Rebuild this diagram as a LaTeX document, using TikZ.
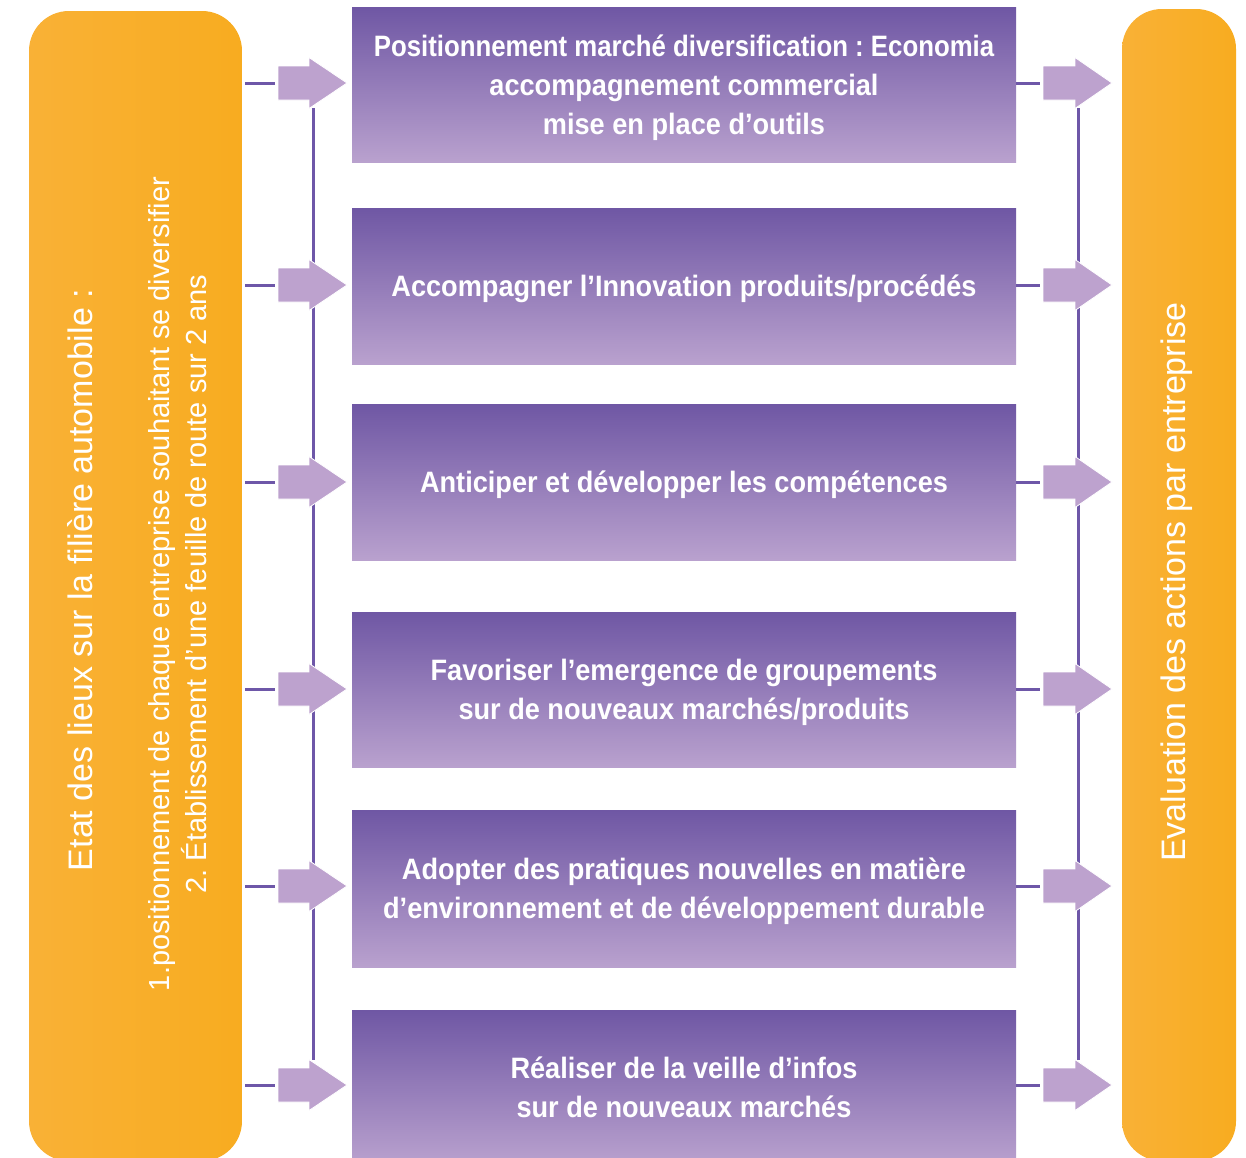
\documentclass[tikz,border=0pt]{standalone}
\usepackage{fontspec}
\setmainfont{Liberation Sans}
\newfontfamily\boxfont{Liberation Sans}[FakeStretch=0.92]
\usetikzlibrary{positioning}
\frenchspacing

\definecolor{orangeL}{HTML}{F9B136}
\definecolor{orangeR}{HTML}{F8AC20}
\definecolor{violetHaut}{HTML}{6F57A4}
\definecolor{violetBas}{HTML}{B9A1CE}
\definecolor{violetFleche}{HTML}{BDA2CE}
\definecolor{violetTrait}{HTML}{6E57A8}

\tikzset{
  cadre/.style={rounded corners=40, left color=orangeL, right color=orangeR, draw=none},
  action/.style={minimum width=664, minimum height=155, inner sep=0, top color=violetHaut,
    bottom color=violetBas, draw=none, text=white, align=center, text depth=0pt,
    font=\boxfont\bfseries\fontsize{29.5}{39}\selectfont},
  lien/.style={violetTrait, line width=3},
  fleche/.style={fill=violetFleche, draw=white, line width=0.8}
}

\begin{document}
\begin{tikzpicture}[x=1pt, y=-1pt]
\useasboundingbox[fill=white] (0,0) rectangle (1246,1157);

% blocs lateraux
\node[cadre, minimum width=213, minimum height=1150] (etat) at (135.5,586) {};
\node[cadre, minimum width=114, minimum height=1152] (evaluation) at (1179,585) {};

\node[rotate=90, text=white, font=\fontsize{34}{40}\selectfont] (etatTitre) at (80,580)
  {Etat des lieux sur la filière automobile :};
\node[rotate=90, text=white, align=center, font=\fontsize{29}{37}\selectfont] (etatDetail) at (178,584)
  {1.positionnement de chaque entreprise souhaitant se diversifier\\2. Établissement d’une feuille de route sur 2 ans};
\node[rotate=90, text=white, font=\fontsize{34}{40}\selectfont] (evalTitre) at (1177,582)
  {Evaluation des actions par entreprise};

% actions
\node[action] (b1) at (684,84.5) {\scalebox{0.95}[1]{Positionnement marché diversification : Economia}\\accompagnement commercial\\mise en place d’outils};
\node[action, minimum height=156] (b2) at (684,286) {Accompagner l’Innovation produits/procédés};
\node[action, minimum height=156] (b3) at (684,482) {Anticiper et développer les compétences};
\node[action] (b4) at (684,689.5) {Favoriser l’emergence de groupements\\sur de nouveaux marchés/produits};
\node[action, minimum height=157] (b5) at (684,888.5) {Adopter des pratiques nouvelles en matière\\d’environnement et de développement durable};
\node[action, minimum height=154] (b6) at (684,1087) {Réaliser de la veille d’infos\\sur de nouveaux marchés};

% traits verticaux
\draw[lien] (313,108) coordinate (gHaut) -- (313,1060) coordinate (gBas);
\draw[lien] (1078,108) coordinate (dHaut) -- (1078,1060) coordinate (dBas);

% fleches
\foreach \i/\y in {1/83, 2/285, 3/482, 4/689, 5/886, 6/1085}{
  \coordinate (ga\i) at (278,\y);
  \coordinate (da\i) at (1043,\y);
  \draw[lien] ([xshift=3]etat.east |- ga\i) -- ([xshift=-3]ga\i);
  \draw[lien] (b\i.east |- da\i) -- ([xshift=-3]da\i);
  \draw[fleche] (ga\i) ++(0,-17) -- ++(31,0) -- ++(0,-8.5) -- ++(38,25.5) -- ++(-38,25.5)
    -- ++(0,-8.5) -- ++(-31,0) -- cycle;
  \draw[fleche] (da\i) ++(0,-17) -- ++(32,0) -- ++(0,-8.5) -- ++(37,25.5) -- ++(-37,25.5)
    -- ++(0,-8.5) -- ++(-32,0) -- cycle;
}
\end{tikzpicture}
\end{document}
